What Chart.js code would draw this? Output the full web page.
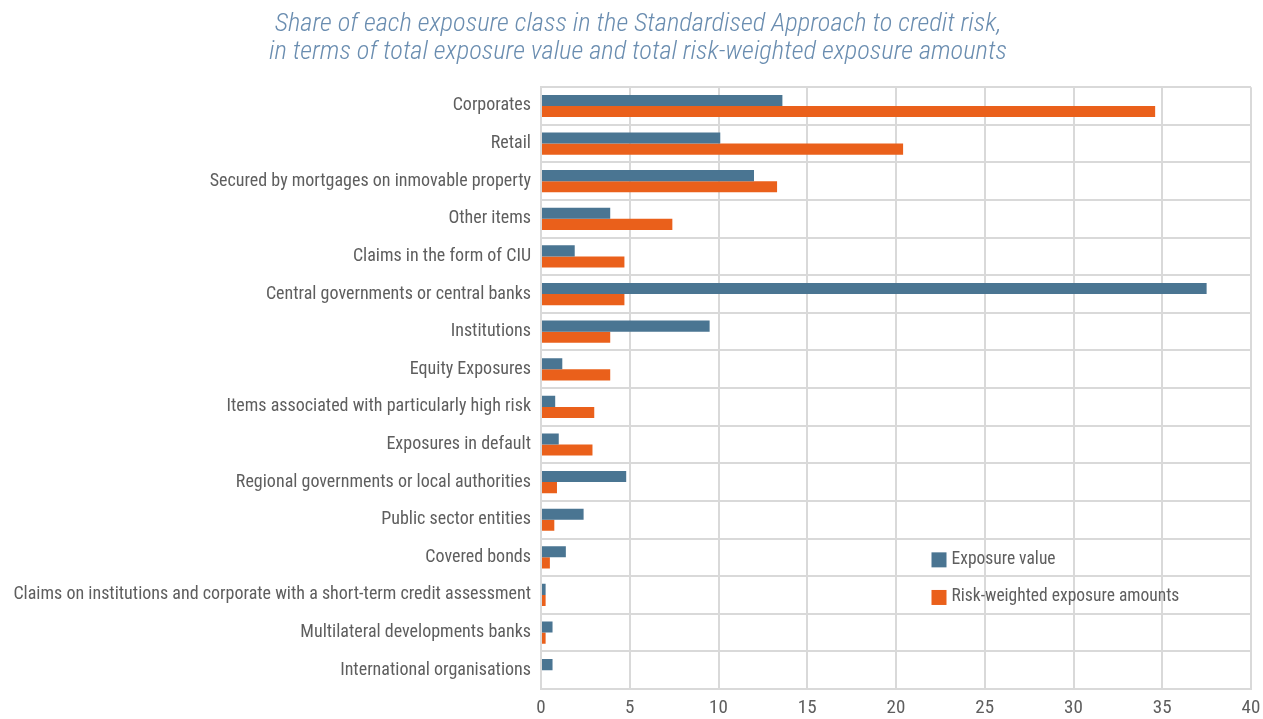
<!DOCTYPE html>
<html>
<head>
<meta charset="utf-8">
<script src="https://cdn.jsdelivr.net/npm/chart.js@4"></script>
<style>
  body { margin: 0; background: #fff; }
  #wrap { width: 1263px; height: 719px; }
</style>
</head>
<body>
<div id="wrap"><canvas id="myChart" width="1263" height="719"></canvas></div>
<script>
const categories = [
  "Corporates",
  "Retail",
  "Secured by mortgages on inmovable property",
  "Other items",
  "Claims in the form of CIU",
  "Central governments or central banks",
  "Institutions",
  "Equity Exposures",
  "Items associated with particularly high risk",
  "Exposures in default",
  "Regional governments or local authorities",
  "Public sector entities",
  "Covered bonds",
  "Claims on institutions and corporate with a short-term credit assessment",
  "Multilateral developments banks",
  "International organisations",
];
const exposureValue = [13.6, 10.1, 12.0, 3.9, 1.9, 37.5, 9.5, 1.2, 0.8, 1.0, 4.8, 2.4, 1.4, 0.26, 0.65, 0.65];
const riskWeighted = [34.6, 20.4, 13.3, 7.4, 4.7, 4.7, 3.9, 3.9, 3.0, 2.9, 0.9, 0.75, 0.5, 0.26, 0.26, 0];
const titleLines = [
  "Share of each exposure class in the Standardised Approach to credit risk,",
  "in terms of total exposure value and total risk-weighted exposure amounts",
];

const FONT = "'Roboto Condensed', 'Liberation Sans Narrow', 'DejaVu Sans Condensed', sans-serif";
const GREY = "#5e5e5e";

// legend drawn inside the plot, like the original
const innerLegend = {
  id: "innerLegend",
  afterLayout(chart) {
    // let the long category label run into the left padding instead of being clipped
    chart.scales.y.left = 0;
  },
  afterDraw(chart) {
    const ctx = chart.ctx;
    const xs = chart.scales.x;
    const ys = chart.scales.y;
    const x0 = xs.getPixelForValue(22.0);
    ctx.save();
    ctx.font = "17.5px " + FONT;
    ctx.textBaseline = "middle";
    chart.data.datasets.forEach((ds, i) => {
      const y = ys.getPixelForValue(12 + i) + 2;
      ctx.fillStyle = ds.backgroundColor;
      ctx.fillRect(x0, y - 7, 15, 15);
      ctx.fillStyle = GREY;
      ctx.fillText(ds.label, x0 + 20, y);
    });
    ctx.restore();
  },
};

const ctx = document.getElementById("myChart");
const chart = new Chart(ctx, {
  type: "bar",
  data: {
    labels: categories,
    datasets: [
      {
        label: "Exposure value",
        data: exposureValue,
        backgroundColor: "#4a7592",
        categoryPercentage: 0.59,
        barPercentage: 1,
      },
      {
        label: "Risk-weighted exposure amounts",
        data: riskWeighted,
        backgroundColor: "#ea601b",
        categoryPercentage: 0.59,
        barPercentage: 1,
      },
    ],
  },
  plugins: [innerLegend],
  options: {
    indexAxis: "y",
    responsive: false,
    animation: false,
    layout: {
      padding: { left: 25, right: 12, top: 6, bottom: 0 },
    },
    plugins: {
      legend: { display: false },
      tooltip: { enabled: false },
      title: {
        display: true,
        text: titleLines,
        color: "#6a8db0",
        font: { family: FONT, size: 26.5, style: "italic", weight: 300, lineHeight: 1.06 },
        padding: { top: 4, bottom: 21 },
      },
    },
    scales: {
      x: {
        min: 0,
        max: 40,
        afterFit: (scale) => {
          scale.height = 30;
          scale.paddingRight = 0;
        },
        ticks: {
          stepSize: 5,
          color: GREY,
          font: { family: FONT, size: 19 },
          padding: 8,
        },
        grid: { color: "#d9d9d9", lineWidth: 2, drawTicks: false },
        border: { color: "#d9d9d9", width: 2 },
      },
      y: {
        afterFit: (scale) => { scale.width = 516; },
        ticks: {
          color: GREY,
          font: { family: FONT, size: 18 },
          padding: 10,
          autoSkip: false,
        },
        grid: { color: "#d9d9d9", lineWidth: 2, drawTicks: false, offset: true },
        border: { color: "#d9d9d9", width: 2 },
      },
    },
  },
});
</script>
</body>
</html>
